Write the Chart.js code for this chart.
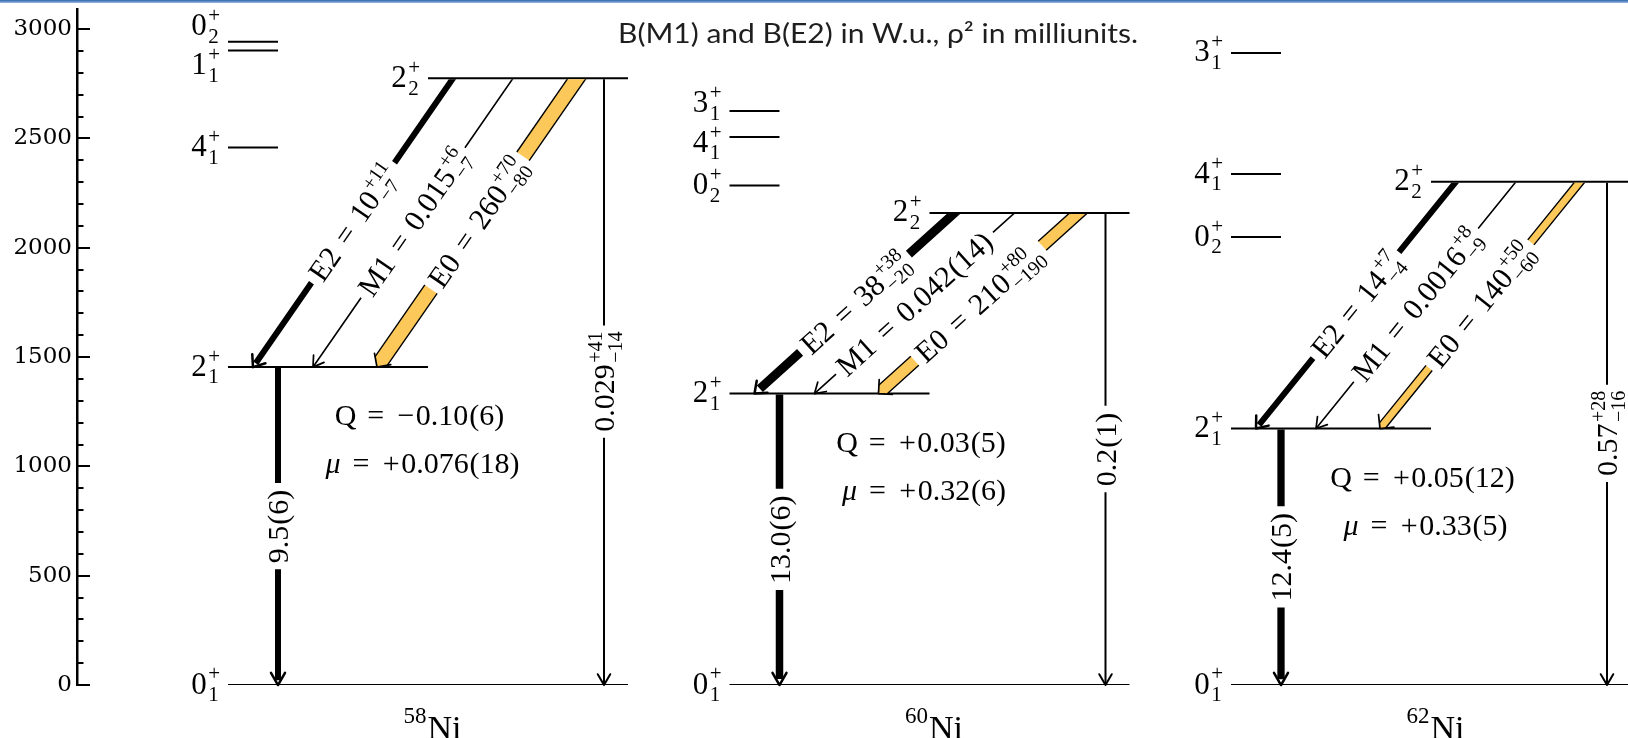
<!DOCTYPE html>
<html><head><meta charset="utf-8">
<script src="https://cdn.jsdelivr.net/npm/chart.js@4/dist/chart.umd.min.js"></script>
<style>html,body{margin:0;padding:0;background:#fff;}canvas{display:block;}</style>
</head><body>
<canvas id="c" width="1628" height="738"></canvas>
<script>
// ---------------- data (keV, W.u., milliunits) ----------------
const massNumbers = ['58', '60', '62'];
const elementName = 'Ni';
const gsEnergy = [0, 0, 0];
const e2plus1 = [1454, 1333, 1173];
const e2plus2 = [2775, 2159, 2302];
const e4plus1 = [2459, 2506, 2337];
const e0plus2 = [2942, 2285, 2049];
const e1plus1 = [2902, null, null];
const e3plus1 = [null, 2626, 2891];
const yTicks = [0, 500, 1000, 1500, 2000, 2500, 3000];
const bE2_21to01 = ['9.5(6)', '13.0(6)', '12.4(5)'];
const bE2_22to01 = [['0.029', '+41', '−14'], ['0.2(1)', '', ''], ['0.57', '+28', '−16']];
const bE2_22to21 = [['10', '+11', '−7'], ['38', '+38', '−20'], ['14', '+7', '−4']];
const bM1_22to21 = [['0.015', '+6', '−7'], ['0.042(14)', '', ''], ['0.0016', '+8', '−9']];
const rho2E0_22to21 = [['260', '+70', '−80'], ['210', '+80', '−190'], ['140', '+50', '−60']];
const quadMoment = ['−0.10(6)', '+0.03(5)', '+0.05(12)'];
const magMoment = ['+0.076(18)', '+0.32(6)', '+0.33(5)'];
const titleText = 'B(M1) and B(E2) in W.u., ρ² in milliunits.';

// ---------------- layout / style ----------------
const STYLE = {
  colLeft: [228, 729.5, 1231], colWidth: 400, half: 200, shortLen: 50,
  g21x: 50, g22x: 376, e2Top: 225, m1Top: 285, e0Top: 349, diagDx: 200,
  e2W: [6, 9, 6], e0W: [15, 12, 8], g21W: [6, 7.5, 7.3], m1W: 1.6, g22W: 2,
  labelShift: [{ '0_2': -15, '1_1': 15 }, { '3_1': -7, '4_1': 6 }, {}],
  orange: '#fcc85a', serif: '"Liberation Serif", "Times New Roman", serif'
};
const S_MAIN = 30, S_LEVEL = 31;

function setFont(ctx, size, italic) { ctx.font = (italic ? 'italic ' : '') + size + 'px ' + STYLE.serif; }
function run(ctx, s, x, y, size, draw) {
  let cx = x, buf = '';
  const big = size >= 24;
  const put = (t, it) => { setFont(ctx, size, it); if (draw) ctx.fillText(t, cx, y); cx += ctx.measureText(t).width; };
  const flush = () => { if (buf) { put(buf, false); buf = ''; } };
  for (const ch of s) {
    if (ch === ' ') continue;
    if (ch === '=') { flush(); cx += 0.36 * size; put('='); cx += 0.36 * size; }
    else if ((ch === '−' || ch === '+') && big) { flush(); cx += 0.08 * size; put(ch); cx += 0.05 * size; }
    else if (ch === '(' ) { flush(); cx += 0.03 * size; put(ch); }
    else if (ch === ')' ) { flush(); put(ch); cx += 0.03 * size; }
    else if (ch === 'μ') { flush(); put(ch, true); cx += 0.04 * size; }
    else buf += ch;
  }
  flush();
  return cx - x;
}
const scr = S => Math.round(S * 0.68);
function mathWidth(ctx, lab, S) {
  const wm = run(ctx, lab[0], 0, 0, S, false);
  const ws = Math.max(lab[1] ? run(ctx, lab[1], 0, 0, scr(S), false) : 0, lab[2] ? run(ctx, lab[2], 0, 0, scr(S), false) : 0);
  return wm + (ws ? ws + 1.5 : 0);
}
function drawMath(ctx, lab, x, base, S) {
  const wm = run(ctx, lab[0], x, base, S, true);
  if (lab[1]) run(ctx, lab[1], x + wm + 1.5, base - 0.42 * S, scr(S), true);
  if (lab[2]) run(ctx, lab[2], x + wm + 1.5, base + 0.25 * S, scr(S), true);
}

function transition(ctx, t) {
  const dx = t.x1 - t.x0, dy = t.y1 - t.y0, len = Math.hypot(dx, dy);
  const ux = dx / len, uy = dy / len, nx = -uy, ny = ux;
  const P = s => [t.x0 + ux * s, t.y0 + uy * s];
  const lw = mathWidth(ctx, t.lab, S_MAIN);
  const pad = 6;
  const g0 = len / 2 - lw / 2 - pad, g1 = len / 2 + lw / 2 + pad;
  const ang = t.ang * Math.PI / 180;
  ctx.save();
  ctx.beginPath(); ctx.rect(0, t.y0 + 1, 1628, 738); ctx.clip();
  if (t.band) {
    const h = t.w / 2, hb = h / Math.tan(ang);
    const side = (s, sg) => { const [px, py] = P(s); return [px + nx * h * sg, py + ny * h * sg]; };
    const segs = [[-2 * t.w, g0, false], [g1, len - hb, true]];
    for (const [a, b, pointed] of segs) {
      ctx.fillStyle = STYLE.orange;
      ctx.beginPath();
      ctx.moveTo(...side(a, 1)); ctx.lineTo(...side(b, 1));
      if (pointed) ctx.lineTo(t.x1, t.y1);
      ctx.lineTo(...side(b, -1)); ctx.lineTo(...side(a, -1)); ctx.closePath(); ctx.fill();
      ctx.strokeStyle = '#000'; ctx.lineWidth = 1.4; ctx.lineCap = 'butt';
      ctx.beginPath();
      ctx.moveTo(...side(a, 1)); ctx.lineTo(...side(b, 1));
      ctx.moveTo(...side(a, -1)); ctx.lineTo(...side(b, -1));
      ctx.stroke();
    }
  } else {
    const shorten = t.w > 3 ? t.w * 0.8 : 1;
    ctx.strokeStyle = '#000'; ctx.lineWidth = t.w; ctx.lineCap = 'butt';
    ctx.beginPath();
    ctx.moveTo(...P(-2 * t.w)); ctx.lineTo(...P(g0));
    ctx.moveTo(...P(g1)); ctx.lineTo(...P(len - shorten));
    ctx.stroke();
  }
  ctx.restore();
  // arrow head (open V)
  const bx = -ux, by = -uy;
  const rot = a => [bx * Math.cos(a) - by * Math.sin(a), bx * Math.sin(a) + by * Math.cos(a)];
  const r1 = rot(ang), r2 = rot(-ang);
  ctx.strokeStyle = '#000'; ctx.lineWidth = t.hw; ctx.lineJoin = 'round'; ctx.lineCap = 'round';
  ctx.beginPath();
  ctx.moveTo(t.x1 + r1[0] * t.hl, t.y1 + r1[1] * t.hl);
  ctx.lineTo(t.x1, t.y1);
  ctx.lineTo(t.x1 + r2[0] * t.hl, t.y1 + r2[1] * t.hl);
  ctx.stroke();
  // label along the transition
  const [mx, my] = P(len / 2);
  ctx.save(); ctx.translate(mx, my); ctx.rotate(Math.atan2(-dy, -dx));
  ctx.fillStyle = '#000';
  drawMath(ctx, t.lab, -lw / 2, 0.34 * S_MAIN, S_MAIN);
  ctx.restore();
}

// ---------------- level segments as datasets ----------------
const levelSegs = [];
const levelLabels = [];
massNumbers.forEach((m, i) => {
  const L = STYLE.colLeft[i], W = STYLE.colWidth, H = STYLE.half, S = STYLE.shortLen;
  levelSegs.push([L, L + W, gsEnergy[i]]); levelLabels.push([i, L, gsEnergy[i], '0', '1']);
  levelSegs.push([L, L + H, e2plus1[i]]); levelLabels.push([i, L, e2plus1[i], '2', '1']);
  levelSegs.push([L + H, L + W, e2plus2[i]]); levelLabels.push([i, L + H, e2plus2[i], '2', '2']);
  [[e4plus1, '4', '1'], [e0plus2, '0', '2'], [e1plus1, '1', '1'], [e3plus1, '3', '1']].forEach(([arr, J, k]) => {
    if (arr[i] != null) { levelSegs.push([L, L + S, arr[i]]); levelLabels.push([i, L, arr[i], J, k]); }
  });
});
const datasets = levelSegs.map(s => ({
  data: [{ x: s[0], y: s[2] }, { x: s[1], y: s[2] }],
  showLine: true, borderColor: '#000', borderWidth: 2, pointRadius: 0, fill: false
}));

const schemePlugin = {
  id: 'scheme',
  beforeDraw(chart) {
    const c = chart.ctx; c.save(); c.fillStyle = '#fff'; c.fillRect(0, 0, chart.width, chart.height); c.restore();
  },
  afterDraw(chart) {
    const ctx = chart.ctx, xs = chart.scales.x, ys = chart.scales.y;
    const X = v => xs.getPixelForValue(v), Y = e => ys.getPixelForValue(e);
    ctx.save();
    ctx.textAlign = 'left'; ctx.textBaseline = 'alphabetic'; ctx.fillStyle = '#000'; ctx.strokeStyle = '#000';
    // inward ticks, major + minor
    const ax = chart.chartArea.left;
    ctx.lineWidth = 2;
    for (let v = 0; v <= 3000; v += 100) {
      const y = Math.round(Y(v));
      const l = v % 500 === 0 ? 13 : 6.5;
      ctx.beginPath(); ctx.moveTo(ax, y); ctx.lineTo(ax + l, y); ctx.stroke();
    }
    // level labels
    levelLabels.forEach(([i, x, e, J, k]) => {
      const key = J + '_' + k;
      const shift = (STYLE.labelShift[i][key] || 0);
      const lab = [J, '+', k];
      const w = mathWidth(ctx, lab, S_LEVEL);
      ctx.fillStyle = '#000';
      drawMath(ctx, lab, X(x) - 8 - w, Y(e) + 8.5 + shift, S_LEVEL);
    });
    massNumbers.forEach((m, i) => {
      const L = STYLE.colLeft[i];
      const y0 = Y(gsEnergy[i]), y1 = Y(e2plus1[i]), y2 = Y(e2plus2[i]);
      // 2_1 -> 0_1
      transition(ctx, { x0: X(L + STYLE.g21x), y0: y1, x1: X(L + STYLE.g21x), y1: y0, w: STYLE.g21W[i], ang: 30, hl: 14, hw: 2.5, lab: [bE2_21to01[i], '', ''] });
      // 2_2 -> 0_1
      transition(ctx, { x0: X(L + STYLE.g22x), y0: y2, x1: X(L + STYLE.g22x), y1: y0, w: STYLE.g22W, ang: 30, hl: 12.5, hw: 2, lab: bE2_22to01[i] });
      // 2_2 -> 2_1 : E2, M1, E0
      const d = STYLE.diagDx;
      transition(ctx, { x0: X(L + STYLE.e2Top), y0: y2, x1: X(L + STYLE.e2Top - d), y1: y1, w: STYLE.e2W[i], ang: 38, hl: 13, hw: 2.5, lab: ['E2 = ' + bE2_22to21[i][0], bE2_22to21[i][1], bE2_22to21[i][2]] });
      transition(ctx, { x0: X(L + STYLE.m1Top), y0: y2, x1: X(L + STYLE.m1Top - d), y1: y1, w: STYLE.m1W, ang: 32, hl: 12, hw: 1.7, lab: ['M1 = ' + bM1_22to21[i][0], bM1_22to21[i][1], bM1_22to21[i][2]] });
      transition(ctx, { x0: X(L + STYLE.e0Top), y0: y2, x1: X(L + STYLE.e0Top - d), y1: y1, w: STYLE.e0W[i], band: true, ang: 45, hl: 14, hw: 1.7, lab: ['E0 = ' + rho2E0_22to21[i][0], rho2E0_22to21[i][1], rho2E0_22to21[i][2]] });
      // moments
      ctx.fillStyle = '#000';
      const q = 'Q = ' + quadMoment[i], mu = 'μ = ' + magMoment[i];
      const wq = run(ctx, q, 0, 0, S_MAIN, false), wm = run(ctx, mu, 0, 0, S_MAIN, false);
      run(ctx, q, X(L + 192) - wq / 2, y1 + 58, S_MAIN, true);
      run(ctx, mu, X(L + 195) - wm / 2, y1 + 106, S_MAIN, true);
      // nucleus name
      setFont(ctx, 23); const wA = ctx.measureText(m).width;
      setFont(ctx, 34); const wN = ctx.measureText(elementName).width;
      const sx = X(L + 204) - (wA + wN) / 2;
      setFont(ctx, 23); ctx.fillText(m, sx, 723);
      setFont(ctx, 34); ctx.fillText(elementName, sx + wA + 1, 739);
    });
    // title
    ctx.font = '26px Lato';
    const tw = ctx.measureText(titleText).width;
    ctx.save(); ctx.translate(618, 43); ctx.scale(520 / tw, 1); ctx.fillStyle = '#1e1e1e'; ctx.fillText(titleText, 0, 0); ctx.restore();
    // slide border bar at top
    const g = ctx.createLinearGradient(0, 0, 0, 3);
    g.addColorStop(0, '#2f64ad'); g.addColorStop(1, '#9dbbe4');
    ctx.fillStyle = g; ctx.fillRect(0, 0, 1628, 3);
    ctx.restore();
  }
};

Chart.defaults.font.family = 'DejaVu Serif';
new Chart(document.getElementById('c'), {
  type: 'scatter',
  data: { datasets },
  options: {
    responsive: false, animation: false, events: [],
    layout: { padding: { left: 0, right: 0, top: 9, bottom: 53 } },
    scales: {
      x: { type: 'linear', display: false, min: 77, max: 1628 },
      y: {
        type: 'linear', position: 'left', min: 0, max: 3092,
        afterFit(s) { s.width = 77; s.paddingTop = 0; s.paddingBottom = 0; },
        afterBuildTicks(s) { s.ticks = yTicks.map(v => ({ value: v })); },
        grid: { display: false, drawTicks: false },
        border: { display: true, color: '#000', width: 2.5 },
        ticks: { color: '#000', padding: 5, font: { family: 'DejaVu Serif', size: 23 }, callback: v => String(v) }
      }
    },
    plugins: { legend: { display: false }, tooltip: { enabled: false }, title: { display: false } }
  },
  plugins: [schemePlugin]
});
</script>
</body></html>
